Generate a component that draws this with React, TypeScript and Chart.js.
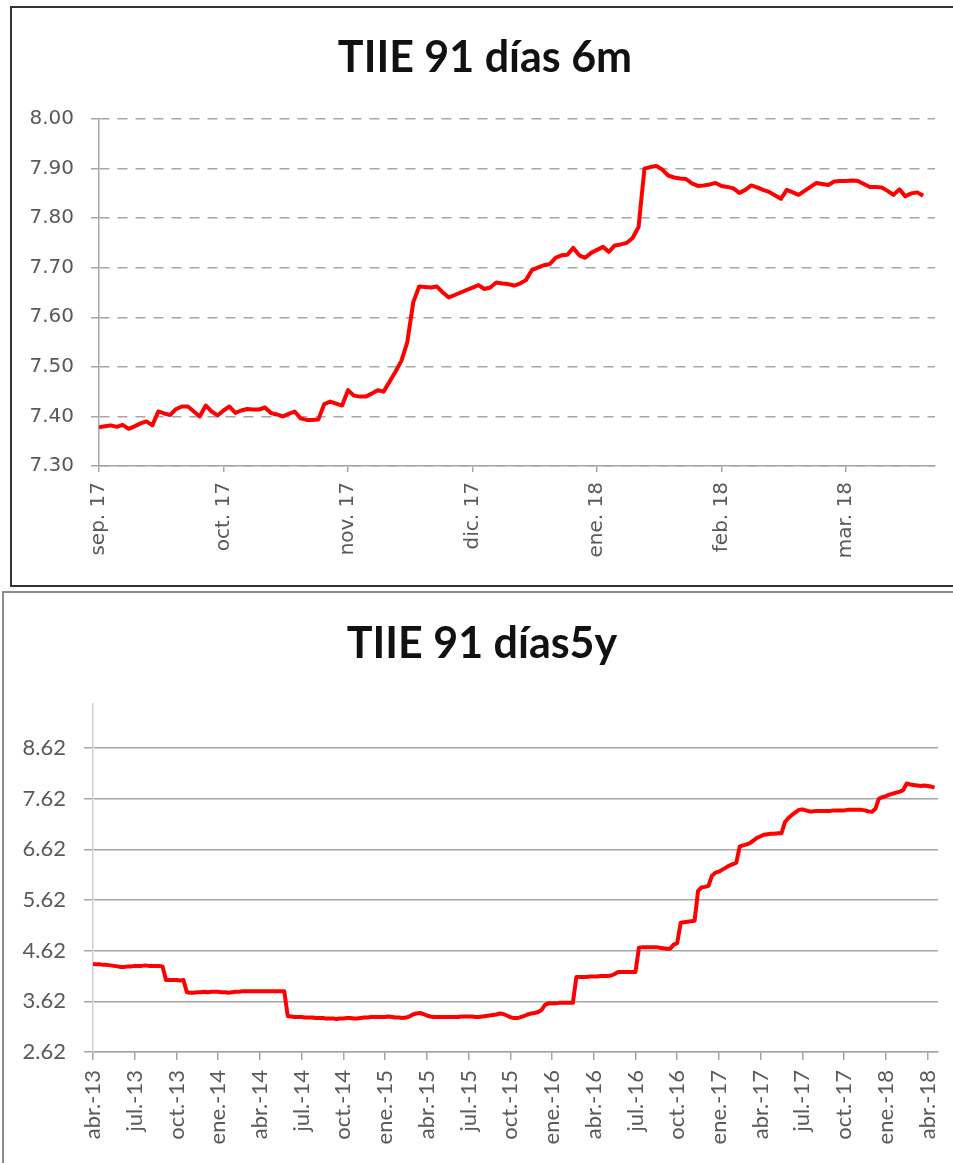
import React, { useEffect, useRef } from 'react';
import { Chart, registerables } from 'chart.js';

Chart.register(...registerables);

// ---------- Chart 1: TIIE 91 días 6m (business-day index) ----------
const sixMonthTitle = 'TIIE 91 días 6m';
const sixMonthLabels = ['sep. 17', 'oct. 17', 'nov. 17', 'dic. 17', 'ene. 18', 'feb. 18', 'mar. 18'];
const sixMonthTickIdx = [0, 21, 42, 63, 84, 105, 126];
const sixMonthYTicks = [7.3, 7.4, 7.5, 7.6, 7.7, 7.8, 7.9, 8.0];
const sixMonthValues = [
  7.378, 7.380, 7.382, 7.379, 7.383, 7.375, 7.380, 7.386, 7.390, 7.382,
  7.410, 7.406, 7.403, 7.415, 7.420, 7.420, 7.410, 7.400, 7.422, 7.410,
  7.402, 7.412, 7.420, 7.407, 7.412, 7.415, 7.414, 7.414, 7.418, 7.407,
  7.404, 7.400, 7.405, 7.410, 7.396, 7.393, 7.393, 7.394, 7.425, 7.430,
  7.426, 7.422, 7.453, 7.442, 7.440, 7.440, 7.446, 7.453, 7.450, 7.470,
  7.490, 7.512, 7.550, 7.630, 7.662, 7.661, 7.660, 7.662, 7.650, 7.640,
  7.645, 7.650, 7.655, 7.660, 7.665, 7.657, 7.660, 7.670, 7.668, 7.667,
  7.664, 7.668, 7.675, 7.695, 7.700, 7.705, 7.707, 7.720, 7.725, 7.726,
  7.740, 7.725, 7.720, 7.730, 7.736, 7.742, 7.732, 7.745, 7.747, 7.750,
  7.760, 7.782, 7.900, 7.903, 7.905, 7.898, 7.886, 7.882, 7.880, 7.879,
  7.870, 7.865, 7.866, 7.868, 7.871, 7.865, 7.863, 7.860, 7.851, 7.857,
  7.866, 7.862, 7.857, 7.853, 7.846, 7.839, 7.857, 7.852, 7.847, 7.855,
  7.863, 7.871, 7.869, 7.867, 7.874, 7.875, 7.875, 7.876, 7.875, 7.869,
  7.863, 7.863, 7.862, 7.855, 7.847, 7.858, 7.844, 7.850, 7.852, 7.845,
];

// ---------- Chart 2: TIIE 91 días5y (weekly index, 12 per quarter) ----------
const fiveYearTitle = 'TIIE 91 días5y';
const fiveYearLabels = [
  'abr.-13', 'jul.-13', 'oct.-13', 'ene.-14', 'abr.-14', 'jul.-14', 'oct.-14',
  'ene.-15', 'abr.-15', 'jul.-15', 'oct.-15', 'ene.-16', 'abr.-16', 'jul.-16',
  'oct.-16', 'ene.-17', 'abr.-17', 'jul.-17', 'oct.-17', 'ene.-18', 'abr.-18',
];
const fiveYearTickIdx = [0, 12, 24, 36, 48, 60, 72, 84, 96, 108, 120, 132, 144, 156, 168, 180, 192, 204, 216, 228, 240];
const fiveYearYTicks = [2.62, 3.62, 4.62, 5.62, 6.62, 7.62, 8.62];
const fiveYearValues = [
  4.36, 4.35, 4.35, 4.34, 4.34, 4.33, 4.32, 4.31, 4.30, 4.30, 4.31, 4.31,
  4.32, 4.32, 4.32, 4.33, 4.32, 4.32, 4.32, 4.32, 4.31, 4.04, 4.04, 4.04,
  4.04, 4.03, 4.04, 3.80, 3.79, 3.79, 3.80, 3.80, 3.81, 3.80, 3.81, 3.81,
  3.81, 3.80, 3.80, 3.79, 3.80, 3.81, 3.81, 3.82, 3.82, 3.82, 3.82, 3.82,
  3.82, 3.82, 3.82, 3.82, 3.82, 3.82, 3.82, 3.82, 3.33, 3.32, 3.31, 3.31,
  3.31, 3.30, 3.30, 3.30, 3.29, 3.29, 3.29, 3.28, 3.28, 3.28, 3.27, 3.28,
  3.28, 3.29, 3.29, 3.28, 3.28, 3.29, 3.30, 3.30, 3.31, 3.31, 3.31, 3.31,
  3.31, 3.32, 3.31, 3.30, 3.30, 3.29, 3.30, 3.32, 3.36, 3.38, 3.39, 3.37,
  3.34, 3.32, 3.31, 3.31, 3.31, 3.31, 3.31, 3.31, 3.31, 3.31, 3.32, 3.32,
  3.32, 3.32, 3.31, 3.31, 3.32, 3.33, 3.34, 3.35, 3.36, 3.38, 3.37, 3.34,
  3.31, 3.29, 3.29, 3.31, 3.33, 3.36, 3.38, 3.39, 3.41, 3.45, 3.55, 3.58,
  3.58, 3.58, 3.59, 3.59, 3.59, 3.59, 3.59, 4.10, 4.10, 4.10, 4.10, 4.11,
  4.11, 4.11, 4.12, 4.12, 4.12, 4.13, 4.16, 4.20, 4.20, 4.20, 4.20, 4.20,
  4.20, 4.68, 4.69, 4.69, 4.69, 4.69, 4.69, 4.68, 4.67, 4.66, 4.66, 4.74,
  4.77, 5.17, 5.18, 5.19, 5.20, 5.21, 5.80, 5.87, 5.88, 5.90, 6.10, 6.16,
  6.18, 6.22, 6.26, 6.30, 6.33, 6.36, 6.68, 6.70, 6.72, 6.75, 6.80, 6.85,
  6.88, 6.91, 6.92, 6.93, 6.93, 6.94, 6.94, 7.16, 7.24, 7.30, 7.35, 7.40,
  7.41, 7.39, 7.37, 7.37, 7.38, 7.38, 7.38, 7.38, 7.38, 7.39, 7.39, 7.39,
  7.39, 7.40, 7.40, 7.40, 7.40, 7.40, 7.39, 7.37, 7.36, 7.42, 7.62, 7.65,
  7.67, 7.70, 7.72, 7.74, 7.76, 7.79, 7.92, 7.90, 7.89, 7.88, 7.87, 7.88,
  7.87, 7.86, 7.84,
];

type Spec = {
  width: number;
  height: number;
  values: number[];
  tickIdx: number[];
  labels: string[];
  yTicks: number[];
  yMin: number;
  yMax: number;
  xMax: number;
  padLeft: number;
  padRight: number;
  padTop: number;
  yWidth: number;
  xHeight: number;
  yPad: number;
  yTickLen: number;
  xPad: number;
  xTickLen: number;
  tickFont: string;
  tickSize: number;
  gridColor: string;
  gridDash: number[];
  yBorderColor: string;
  xBorderColor: string;
};

function LineChart({ spec }: { spec: Spec }) {
  const ref = useRef<HTMLCanvasElement | null>(null);
  useEffect(() => {
    let chart: Chart | null = null;
    let cancelled = false;
    const make = () => {
      if (cancelled || !ref.current) return;
      const s = spec;
      chart = new Chart(ref.current, {
        type: 'line',
        data: {
          datasets: [
            {
              data: s.values.map((v, i) => ({ x: i, y: v })),
              borderColor: '#ff0000',
              borderWidth: 4,
              pointRadius: 0,
              tension: 0,
              fill: false,
              borderJoinStyle: 'round',
            },
          ],
        },
        options: {
          animation: false,
          responsive: false,
          events: [],
          layout: { padding: { left: s.padLeft, right: s.padRight, top: s.padTop, bottom: 0 } },
          plugins: {
            legend: { display: false },
            tooltip: { enabled: false },
            title: { display: false },
          },
          scales: {
            x: {
              type: 'linear',
              min: 0,
              max: s.xMax,
              afterBuildTicks: (sc: any) => {
                sc.ticks = s.tickIdx.map((v) => ({ value: v }));
              },
              afterFit: (sc: any) => {
                sc.height = s.xHeight;
                sc.paddingLeft = 0;
                sc.paddingRight = 0;
              },
              ticks: {
                autoSkip: false,
                minRotation: 90,
                maxRotation: 90,
                padding: s.xPad,
                color: '#595959',
                font: { family: s.tickFont, size: s.tickSize },
                callback: (v: any) => {
                  const k = s.tickIdx.indexOf(Number(v));
                  return k >= 0 ? s.labels[k] : '';
                },
              },
              grid: {
                display: true,
                drawOnChartArea: false,
                drawTicks: true,
                tickLength: s.xTickLen,
                color: '#a6a6a6',
                lineWidth: 1.5,
              },
              border: { display: true, color: s.xBorderColor, width: 1.5 },
            },
            y: {
              type: 'linear',
              min: s.yMin,
              max: s.yMax,
              afterBuildTicks: (sc: any) => {
                sc.ticks = s.yTicks.map((v) => ({ value: v }));
              },
              afterFit: (sc: any) => {
                sc.width = s.yWidth;
                sc.paddingTop = 0;
                sc.paddingBottom = 0;
              },
              ticks: {
                autoSkip: false,
                padding: s.yPad,
                color: '#595959',
                font: { family: s.tickFont, size: s.tickSize },
                callback: (v: any) => Number(v).toFixed(2),
              },
              grid: {
                display: true,
                drawTicks: true,
                tickLength: s.yTickLen,
                color: s.gridColor,
                lineWidth: 1.5,
              },
              border: { display: true, color: s.yBorderColor, width: 1.5, dash: s.gridDash },
            },
          },
        },
      } as any);
    };
    const fonts = (document as any).fonts;
    if (fonts && fonts.load) {
      fonts.load(`${spec.tickSize}px "${spec.tickFont}"`).then(make, make);
    } else {
      make();
    }
    return () => {
      cancelled = true;
      if (chart) chart.destroy();
    };
  }, [spec]);
  return (
    <canvas
      ref={ref}
      width={spec.width}
      height={spec.height}
      style={{ width: spec.width, height: spec.height, display: 'block' }}
    />
  );
}

const topSpec: Spec = {
  width: 936,
  height: 577,
  values: sixMonthValues,
  tickIdx: sixMonthTickIdx,
  labels: sixMonthLabels,
  yTicks: sixMonthYTicks,
  yMin: 7.3,
  yMax: 8.0,
  xMax: 141,
  padLeft: 8,
  padRight: 13,
  padTop: 111,
  yWidth: 79,
  xHeight: 119,
  yPad: 17,
  yTickLen: 8,
  xPad: 10,
  xTickLen: 6,
  tickFont: 'DejaVu Sans',
  tickSize: 20,
  gridColor: '#a6a6a6',
  gridDash: [10, 8],
  yBorderColor: '#a6a6a6',
  xBorderColor: '#a6a6a6',
};

const bottomSpec: Spec = {
  width: 949,
  height: 570,
  values: fiveYearValues,
  tickIdx: fiveYearTickIdx,
  labels: fiveYearLabels,
  yTicks: fiveYearYTicks,
  yMin: 2.62,
  yMax: 9.49,
  xMax: 243,
  padLeft: 6,
  padRight: 15,
  padTop: 111,
  yWidth: 83,
  xHeight: 111,
  yPad: 18,
  yTickLen: 9,
  xPad: 10,
  xTickLen: 8,
  tickFont: 'Lato',
  tickSize: 22,
  gridColor: '#a6a6a6',
  gridDash: [],
  yBorderColor: '#cfcfcf',
  xBorderColor: '#a6a6a6',
};

const titleStyle: React.CSSProperties = {
  position: 'absolute',
  transform: 'translateX(-50%)',
  whiteSpace: 'nowrap',
  fontFamily: 'Lato, sans-serif',
  fontWeight: 700,
  fontSize: 43,
  lineHeight: '52px',
  color: '#111111',
  margin: 0,
};

export default function App() {
  return (
    <div
      style={{
        position: 'absolute',
        left: 0,
        top: 0,
        width: 953,
        height: 1163,
        overflow: 'hidden',
        background: '#ffffff',
      }}
    >
      <div
        style={{
          position: 'absolute',
          left: 10,
          top: 6,
          width: 950,
          height: 577,
          border: '2px solid #333333',
        }}
      />
      <div style={{ position: 'absolute', left: 12, top: 8 }}>
        <LineChart spec={topSpec} />
      </div>
      <div style={{ ...titleStyle, left: 485, top: 30 }}>{sixMonthTitle}</div>
      <div
        style={{
          position: 'absolute',
          left: 2,
          top: 591,
          width: 960,
          height: 600,
          border: '2px solid #8c8c8c',
        }}
      />
      <div style={{ position: 'absolute', left: 4, top: 593 }}>
        <LineChart spec={bottomSpec} />
      </div>
      <div style={{ ...titleStyle, left: 482, top: 616 }}>{fiveYearTitle}</div>
    </div>
  );
}
